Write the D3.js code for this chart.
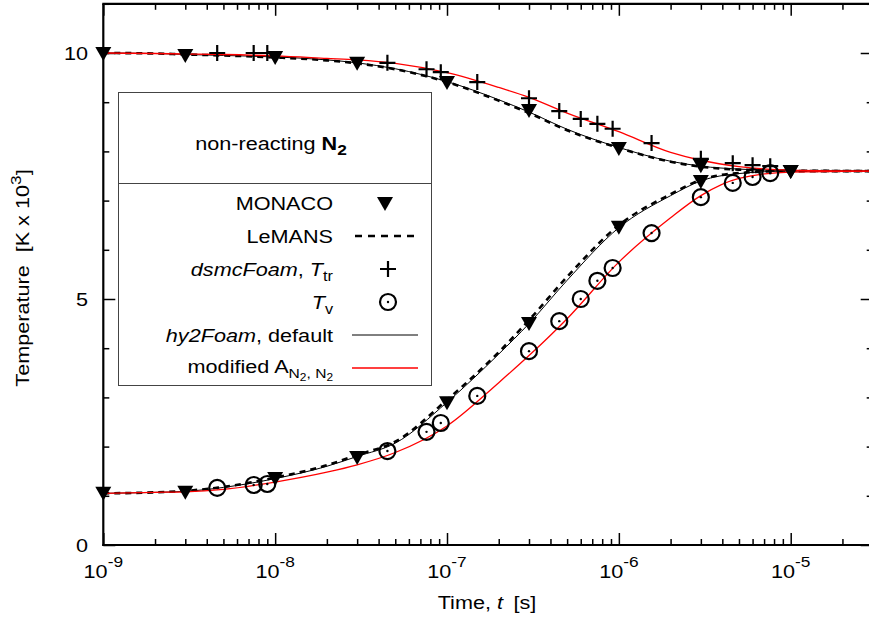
<!DOCTYPE html>
<html><head><meta charset="utf-8">
<script src="https://cdn.jsdelivr.net/npm/d3@7"></script>
<style>
body{margin:0;background:#fff}
svg{display:block}
text{font-family:"Liberation Sans",Arial,Helvetica,sans-serif;fill:#000}
</style>
</head><body>
<svg id="c" width="869" height="624"></svg>
<script>
// ---------- data ----------
const xTickValues = [1e-9, 1e-8, 1e-7, 1e-6, 1e-5];
const xTickExponents = ["-9", "-8", "-7", "-6", "-5"];
const yTickValues = [0, 5, 10];
const yTickLabels = ["0", "5", "10"];

// MONACO (triangles)
const monacoTime = [1e-9, 3e-9, 1e-8, 3e-8, 1e-7, 3e-7, 1e-6, 3e-6, 1e-5];
const monacoTtr  = [10.0, 9.96, 9.92, 9.80, 9.41, 8.84, 8.07, 7.72, 7.60];
const monacoTv   = [1.06, 1.08, 1.36, 1.79, 2.90, 4.51, 6.47, 7.40, 7.60];

// dsmcFoam (plus = Ttr, circle = Tv)
const dsmcTime = [4.6e-9, 7.5e-9, 9e-9, 4.5e-8, 7.6e-8, 9.2e-8, 1.5e-7, 3e-7, 4.5e-7, 6e-7, 7.5e-7, 9.2e-7, 1.55e-6, 3e-6, 4.6e-6, 6e-6, 7.6e-6];
const dsmcTtr  = [10.0, 10.0, 10.0, 9.80, 9.67, 9.61, 9.41, 9.08, 8.82, 8.66, 8.56, 8.46, 8.17, 7.85, 7.76, 7.72, 7.70];
const dsmcTv   = [1.16, 1.22, 1.24, 1.91, 2.30, 2.48, 3.03, 3.94, 4.55, 5.00, 5.37, 5.63, 6.34, 7.07, 7.36, 7.48, 7.56];

// curves
const curveTime  = [1e-9, 2e-9, 3e-9, 5e-9, 1e-8, 2e-8, 3e-8, 5e-8, 1e-7, 2e-7, 3e-7, 5e-7, 1e-6, 2e-6, 3e-6, 5e-6, 1e-5, 3e-5];
const lemansTtr  = [10.0, 9.99, 9.97, 9.95, 9.91, 9.85, 9.79, 9.67, 9.41, 9.03, 8.78, 8.43, 8.07, 7.79, 7.69, 7.63, 7.61, 7.60];
const lemansTv   = [1.05, 1.07, 1.10, 1.18, 1.37, 1.62, 1.83, 2.10, 2.95, 3.92, 4.57, 5.45, 6.50, 7.13, 7.42, 7.56, 7.60, 7.60];
const defaultTtr = [10.0, 9.99, 9.97, 9.95, 9.92, 9.86, 9.80, 9.68, 9.42, 9.05, 8.80, 8.45, 8.08, 7.80, 7.70, 7.64, 7.61, 7.60];
const defaultTv  = [1.05, 1.07, 1.09, 1.17, 1.35, 1.60, 1.80, 2.07, 2.90, 3.88, 4.50, 5.38, 6.45, 7.10, 7.40, 7.55, 7.60, 7.60];
const modifiedTtr = [10.0, 9.99, 9.98, 9.97, 9.94, 9.89, 9.86, 9.79, 9.60, 9.30, 9.10, 8.78, 8.40, 7.98, 7.82, 7.69, 7.62, 7.60];
const modifiedTv  = [1.05, 1.07, 1.08, 1.13, 1.28, 1.48, 1.63, 1.88, 2.42, 3.30, 3.85, 4.60, 5.75, 6.65, 7.10, 7.45, 7.58, 7.60];

// ---------- chart ----------
const svg = d3.select("#c");
const x = d3.scaleLog().domain([1e-9, 3e-5]).range([103.3, 872.7]);
const y = d3.scaleLinear().domain([0, 11]).range([545, 3.8]);

const FS = 18.5;      // base font size
const SX = 1.17;      // horizontal stretch of the reference typeface
function txt(parent, px, py, size, anchor, rot) {
  return parent.append("text")
    .attr("transform", `translate(${px},${py})` + (rot ? ` rotate(${rot})` : "") + ` scale(${SX},1)`)
    .attr("font-size", size).attr("text-anchor", anchor || "start");
}

const minorX = [];
for (let e = -9; e <= -5; e++) for (let m = 2; m <= 9; m++) { const v = m * Math.pow(10, e); if (v <= 3e-5) minorX.push(v); }
const minorY = d3.range(0, 12).filter(v => v % 5 !== 0);

function styleAxis(g) {
  g.select(".domain").remove();
  g.selectAll(".tick line").attr("stroke", "#000").attr("stroke-width", 1.5);
  g.selectAll(".tick text").remove();
}
svg.append("g").attr("transform", `translate(0,${y(0)})`).call(d3.axisBottom(x).tickValues(xTickValues).tickSize(-12).tickSizeOuter(0)).call(styleAxis);
svg.append("g").attr("transform", `translate(0,${y(0)})`).call(d3.axisBottom(x).tickValues(minorX).tickSize(-6).tickSizeOuter(0)).call(styleAxis);
svg.append("g").attr("transform", `translate(0,${y(11)})`).call(d3.axisTop(x).tickValues(xTickValues).tickSize(-12).tickSizeOuter(0)).call(styleAxis);
svg.append("g").attr("transform", `translate(0,${y(11)})`).call(d3.axisTop(x).tickValues(minorX).tickSize(-6).tickSizeOuter(0)).call(styleAxis);
svg.append("g").attr("transform", `translate(${x(1e-9)},0)`).call(d3.axisLeft(y).tickValues(yTickValues).tickSize(-12).tickSizeOuter(0)).call(styleAxis);
svg.append("g").attr("transform", `translate(${x(1e-9)},0)`).call(d3.axisLeft(y).tickValues(minorY).tickSize(-6).tickSizeOuter(0)).call(styleAxis);
svg.append("g").attr("transform", `translate(${x(3e-5)},0)`).call(d3.axisRight(y).tickValues(yTickValues).tickSize(-12).tickSizeOuter(0)).call(styleAxis);
svg.append("g").attr("transform", `translate(${x(3e-5)},0)`).call(d3.axisRight(y).tickValues(minorY).tickSize(-6).tickSizeOuter(0)).call(styleAxis);

// frame
const fr = svg.append("g").attr("stroke", "#000").attr("stroke-width", 2.2).attr("fill", "none");
fr.append("line").attr("x1", x(1e-9)).attr("x2", x(1e-9)).attr("y1", y(11)).attr("y2", y(0) + 1);
fr.append("line").attr("x1", x(1e-9) - 1).attr("x2", x(3e-5)).attr("y1", y(0)).attr("y2", y(0));
fr.append("line").attr("x1", x(1e-9) - 1).attr("x2", x(3e-5)).attr("y1", y(11)).attr("y2", y(11));
fr.append("line").attr("x1", x(3e-5)).attr("x2", x(3e-5)).attr("y1", y(11)).attr("y2", y(0));

// tick labels
xTickValues.forEach((v, i) => {
  const t = txt(svg, x(v), 578, FS, "middle");
  t.append("tspan").text("10");
  t.append("tspan").attr("font-size", FS * 0.8).attr("dy", -11).text(xTickExponents[i]);
});
yTickValues.forEach((v, i) => {
  txt(svg, 88, y(v) + 7, FS, "end").text(yTickLabels[i]);
});

// axis titles
const xt = txt(svg, 487, 609, FS, "middle");
xt.append("tspan").text("Time, ");
xt.append("tspan").attr("font-style", "italic").text("t");
xt.append("tspan").attr("dx", 9).text("[s]");

const yt = txt(svg, 29, 278, FS, "middle", -90);
yt.append("tspan").text("Temperature");
yt.append("tspan").attr("dx", 11).text("[K x 10");
yt.append("tspan").attr("font-size", FS * 0.8).attr("dy", -8).text("3");
yt.append("tspan").attr("dy", 8).text("]");

// lines
const plot = svg.append("g");
function drawLine(times, vals, color, width, dash) {
  const line = d3.line().x(d => x(d[0])).y(d => y(d[1])).curve(d3.curveMonotoneX);
  plot.append("path").datum(times.map((t, i) => [t, vals[i]]))
    .attr("d", line).attr("fill", "none").attr("stroke", color)
    .attr("stroke-width", width).attr("stroke-dasharray", dash || null);
}
drawLine(curveTime, defaultTtr, "#000", 1, null);
drawLine(curveTime, defaultTv, "#000", 1, null);
drawLine(curveTime, lemansTtr, "#000", 2.6, "6,5");
drawLine(curveTime, lemansTv, "#000", 2.6, "6,5");
drawLine(curveTime, modifiedTtr, "#ff0000", 1.3, null);
drawLine(curveTime, modifiedTv, "#ff0000", 1.3, null);

// markers
const triPath = "M-8,-6L8,-6L0,8Z";
function tri(g, cx, cy) { g.append("path").attr("d", triPath).attr("transform", `translate(${cx},${cy})`).attr("fill", "#000"); }
function plus(g, cx, cy) {
  g.append("path").attr("d", "M-8,0H8M0,-8V8").attr("transform", `translate(${cx},${cy})`).attr("stroke", "#000").attr("stroke-width", 2.2).attr("fill", "none");
}
function circ(g, cx, cy) {
  g.append("circle").attr("cx", cx).attr("cy", cy).attr("r", 8).attr("fill", "none").attr("stroke", "#000").attr("stroke-width", 2.2);
  g.append("circle").attr("cx", cx).attr("cy", cy).attr("r", 1.2).attr("fill", "#000");
}
const mk = svg.append("g");
monacoTime.forEach((t, i) => { tri(mk, x(t), y(monacoTtr[i])); tri(mk, x(t), y(monacoTv[i])); });
dsmcTime.forEach((t, i) => { plus(mk, x(t), y(dsmcTtr[i])); circ(mk, x(t), y(dsmcTv[i])); });

// legend
const lg = svg.append("g");
lg.append("rect").attr("x", 118.5).attr("y", 92.5).attr("width", 313).attr("height", 293).attr("fill", "#fff").attr("stroke", "#444").attr("stroke-width", 1);
lg.append("line").attr("x1", 118.5).attr("x2", 431.5).attr("y1", 183.5).attr("y2", 183.5).attr("stroke", "#444").attr("stroke-width", 1);
const ttl = txt(lg, 271, 150, FS, "middle");
ttl.append("tspan").text("non-reacting ");
ttl.append("tspan").attr("font-weight", "bold").text("N");
ttl.append("tspan").attr("font-weight", "bold").attr("font-size", FS * 0.8).attr("dy", 5).text("2");

const lx = 333, sx = 388, rows = [203, 236, 269, 302, 335, 368];
let t;
txt(lg, lx, rows[0] + 7, FS, "end").text("MONACO");
tri(lg, sx - 3, rows[0]);
txt(lg, lx, rows[1] + 7, FS, "end").text("LeMANS");
lg.append("line").attr("x1", 355).attr("x2", 418).attr("y1", rows[1]).attr("y2", rows[1]).attr("stroke", "#000").attr("stroke-width", 2.6).attr("stroke-dasharray", "7,6");
t = txt(lg, lx, rows[2] + 7, FS, "end");
t.append("tspan").attr("font-style", "italic").text("dsmcFoam");
t.append("tspan").text(", ");
t.append("tspan").attr("font-style", "italic").text("T");
t.append("tspan").attr("font-size", FS * 0.75).attr("dy", 5).text("tr");
plus(lg, sx, rows[2]);
t = txt(lg, lx, rows[3] + 7, FS, "end");
t.append("tspan").attr("font-style", "italic").text("T");
t.append("tspan").attr("font-size", FS * 0.75).attr("dy", 5).text("v");
circ(lg, sx, rows[3]);
t = txt(lg, lx, rows[4] + 7, FS, "end");
t.append("tspan").attr("font-style", "italic").text("hy2Foam");
t.append("tspan").text(", default");
lg.append("line").attr("x1", 352).attr("x2", 418).attr("y1", rows[4]).attr("y2", rows[4]).attr("stroke", "#000").attr("stroke-width", 1);
t = txt(lg, lx, rows[5] + 5, FS, "end");
t.append("tspan").text("modified A");
t.append("tspan").attr("font-size", FS * 0.72).attr("dy", 5).text("N");
t.append("tspan").attr("font-size", FS * 0.55).attr("dy", 3).text("2");
t.append("tspan").attr("font-size", FS * 0.72).attr("dy", -3).text(", N");
t.append("tspan").attr("font-size", FS * 0.55).attr("dy", 3).text("2");
lg.append("line").attr("x1", 352).attr("x2", 418).attr("y1", rows[5]).attr("y2", rows[5]).attr("stroke", "#ff0000").attr("stroke-width", 1.3);
</script>
</body></html>
